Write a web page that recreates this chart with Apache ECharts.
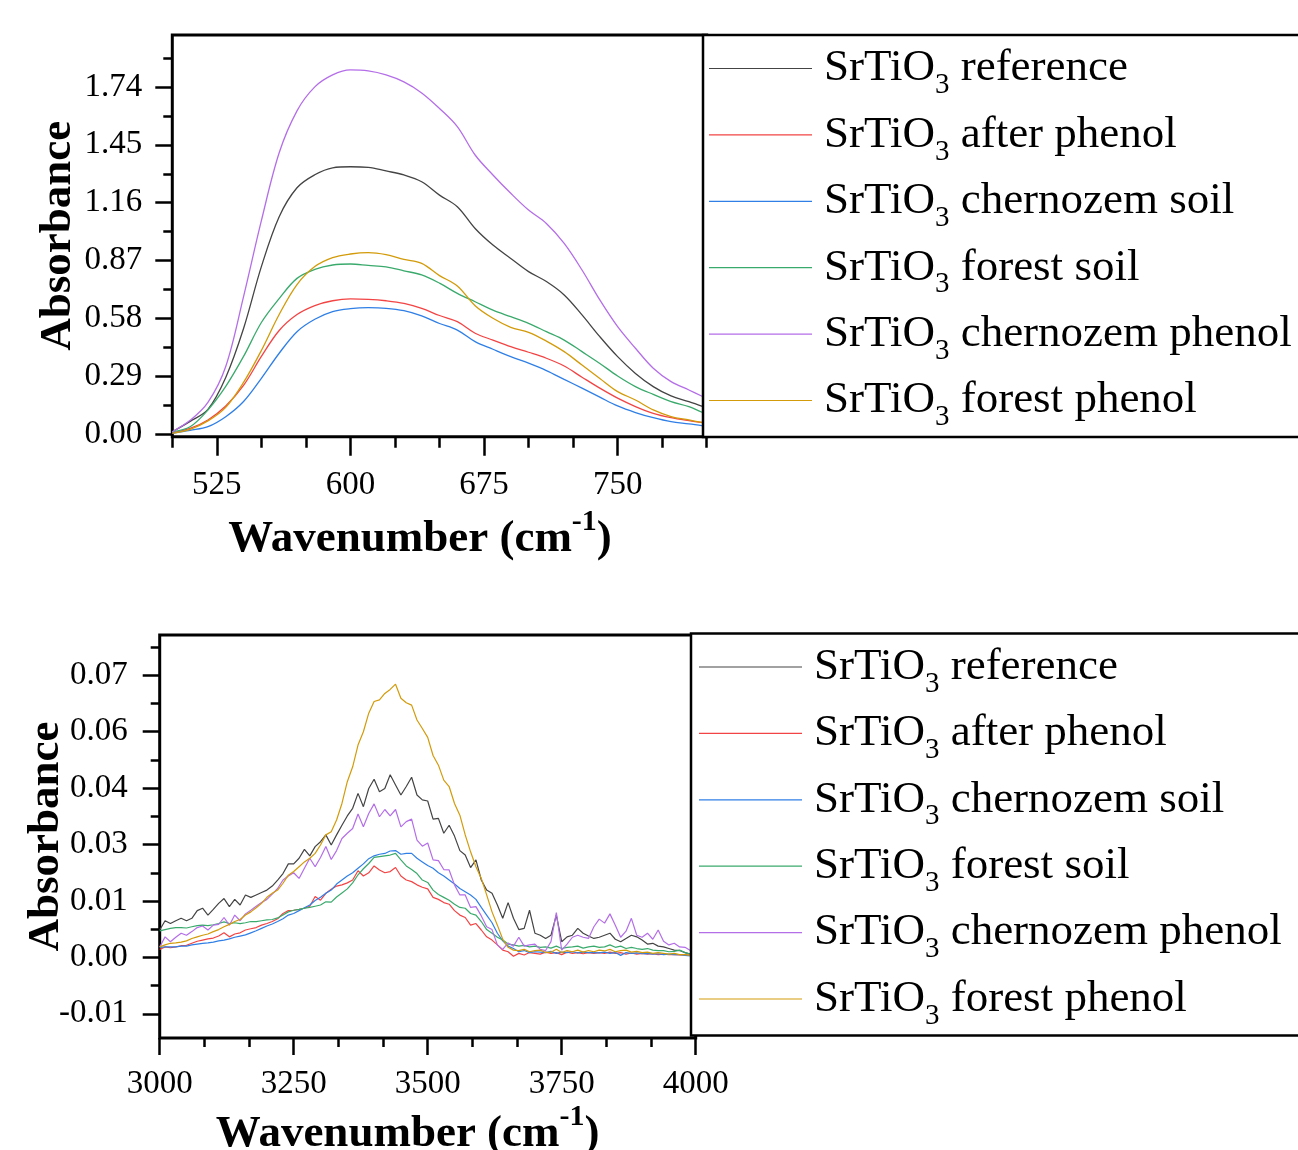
<!DOCTYPE html>
<html>
<head>
<meta charset="utf-8">
<script src="https://cdn.jsdelivr.net/npm/echarts@6/dist/echarts.min.js"></script>
<style>
html, body { margin: 0; padding: 0; background: #fff; }
#chart { width: 1298px; height: 1150px; }
</style>
</head>
<body>
<div id="chart"></div>
<script>
// ---- data: low wavenumber region (cm-1) ----
const topWavenumber = [500, 510, 520, 530, 540, 550, 560, 570, 580, 590, 600, 610, 620, 630, 640, 650,
  660, 670, 680, 690, 700, 710, 720, 730, 740, 750, 760, 770, 780, 790, 798];
const topReference = [0.013, 0.065, 0.125, 0.285, 0.53, 0.84, 1.09, 1.235, 1.30, 1.335, 1.340, 1.337, 1.319, 1.299, 1.265, 1.198,
  1.140, 1.031, 0.948, 0.881, 0.815, 0.765, 0.698, 0.598, 0.489, 0.389, 0.305, 0.239, 0.192, 0.164, 0.139];
const topAfterPhenol = [0.008, 0.030, 0.072, 0.142, 0.245, 0.39, 0.52, 0.60, 0.645, 0.669, 0.678, 0.676, 0.669, 0.656, 0.631, 0.595,
  0.564, 0.506, 0.472, 0.439, 0.411, 0.381, 0.342, 0.286, 0.231, 0.181, 0.139, 0.105, 0.083, 0.068, 0.058];
const topChernozemSoil = [0.005, 0.020, 0.038, 0.088, 0.164, 0.280, 0.406, 0.514, 0.576, 0.614, 0.629, 0.634, 0.631, 0.619, 0.593, 0.555,
  0.522, 0.464, 0.426, 0.389, 0.356, 0.319, 0.275, 0.231, 0.186, 0.142, 0.109, 0.083, 0.063, 0.052, 0.042];
const topForestSoil = [0.013, 0.038, 0.122, 0.240, 0.39, 0.56, 0.68, 0.781, 0.826, 0.848, 0.853, 0.846, 0.839, 0.819, 0.798, 0.757,
  0.706, 0.664, 0.622, 0.589, 0.556, 0.514, 0.472, 0.414, 0.355, 0.292, 0.239, 0.200, 0.164, 0.139, 0.108];
const topChernozemPhenol = [0.013, 0.07, 0.16, 0.34, 0.69, 1.07, 1.41, 1.62, 1.74, 1.80, 1.825, 1.82, 1.80, 1.765, 1.71, 1.632,
  1.541, 1.399, 1.299, 1.207, 1.123, 1.056, 0.956, 0.823, 0.673, 0.539, 0.431, 0.331, 0.264, 0.222, 0.188];
const topForestPhenol = [0.005, 0.025, 0.067, 0.135, 0.26, 0.42, 0.60, 0.75, 0.84, 0.885, 0.903, 0.910, 0.900, 0.876, 0.856, 0.795,
  0.743, 0.644, 0.581, 0.536, 0.511, 0.467, 0.414, 0.347, 0.280, 0.214, 0.172, 0.122, 0.089, 0.072, 0.058];

// ---- data: O-H region (cm-1) ----
const botWavenumber = [
  3000, 3010, 3020, 3030, 3040, 3050, 3060, 3070, 3080, 3090,
  3100, 3110, 3120, 3130, 3140, 3150, 3160, 3170, 3180, 3190,
  3200, 3210, 3220, 3230, 3240, 3250, 3260, 3270, 3280, 3290,
  3300, 3310, 3320, 3330, 3340, 3350, 3360, 3370, 3380, 3390,
  3400, 3410, 3420, 3430, 3440, 3450, 3460, 3470, 3480, 3490,
  3500, 3510, 3520, 3530, 3540, 3550, 3560, 3570, 3580, 3590,
  3600, 3610, 3620, 3630, 3640, 3650, 3660, 3670, 3680, 3690,
  3700, 3710, 3720, 3730, 3740, 3750, 3760, 3770, 3780, 3790,
  3800, 3810, 3820, 3830, 3840, 3850, 3860, 3870, 3880, 3890,
  3900, 3910, 3920, 3930, 3940, 3950, 3960, 3970, 3980, 3990, 4000];
const botReference = [
  0.0068, 0.0091, 0.0084, 0.0091, 0.0097, 0.0091, 0.0097, 0.0116, 0.0122, 0.0105,
  0.0119, 0.0134, 0.0146, 0.0126, 0.0144, 0.0130, 0.0155, 0.0149, 0.0155, 0.0161,
  0.0167, 0.0177, 0.0192, 0.0208, 0.0232, 0.0232, 0.0246, 0.0268, 0.0252, 0.0275,
  0.0287, 0.0304, 0.0279, 0.0304, 0.0328, 0.0351, 0.0370, 0.0407, 0.0374, 0.0419,
  0.0442, 0.0411, 0.0419, 0.0453, 0.0428, 0.0403, 0.0424, 0.0447, 0.0403, 0.0391,
  0.0388, 0.0343, 0.0345, 0.0308, 0.0328, 0.0301, 0.0265, 0.0254, 0.0223, 0.0242,
  0.0192, 0.0167, 0.0159, 0.0130, 0.0097, 0.0136, 0.0097, 0.0069, 0.0072, 0.0117,
  0.0060, 0.0055, 0.0047, 0.0055, 0.0105, 0.0039, 0.0051, 0.0055, 0.0072, 0.0060,
  0.0053, 0.0047, 0.0050, 0.0055, 0.0060, 0.0045, 0.0039, 0.0047, 0.0055, 0.0051,
  0.0043, 0.0033, 0.0035, 0.0028, 0.0026, 0.0022, 0.0018, 0.0017, 0.0012, 0.0008, 0.0006];
const botAfterPhenol = [
  0.0020, 0.0026, 0.0024, 0.0026, 0.0029, 0.0030, 0.0035, 0.0040, 0.0043, 0.0046,
  0.0048, 0.0053, 0.0061, 0.0051, 0.0058, 0.0061, 0.0068, 0.0071, 0.0074, 0.0080,
  0.0084, 0.0089, 0.0096, 0.0109, 0.0116, 0.0117, 0.0119, 0.0122, 0.0127, 0.0151,
  0.0142, 0.0159, 0.0169, 0.0177, 0.0180, 0.0185, 0.0192, 0.0215, 0.0202, 0.0210,
  0.0227, 0.0217, 0.0210, 0.0213, 0.0223, 0.0202, 0.0192, 0.0188, 0.0180, 0.0174,
  0.0170, 0.0149, 0.0144, 0.0136, 0.0132, 0.0116, 0.0105, 0.0099, 0.0080, 0.0084,
  0.0068, 0.0051, 0.0043, 0.0031, 0.0018, 0.0014, 0.0003, 0.0010, 0.0006, 0.0012,
  0.0010, 0.0008, 0.0013, 0.0010, 0.0012, 0.0007, 0.0013, 0.0010, 0.0012, 0.0009,
  0.0012, 0.0010, 0.0012, 0.0010, 0.0013, 0.0010, 0.0012, 0.0008, 0.0011, 0.0008,
  0.0010, 0.0008, 0.0009, 0.0007, 0.0008, 0.0007, 0.0007, 0.0006, 0.0007, 0.0005, 0.0005];
const botChernozemSoil = [
  0.0025, 0.0026, 0.0026, 0.0026, 0.0028, 0.0028, 0.0031, 0.0033, 0.0035, 0.0036,
  0.0038, 0.0041, 0.0043, 0.0046, 0.0050, 0.0053, 0.0056, 0.0061, 0.0066, 0.0072,
  0.0078, 0.0083, 0.0089, 0.0096, 0.0105, 0.0109, 0.0116, 0.0123, 0.0130, 0.0141,
  0.0149, 0.0159, 0.0167, 0.0182, 0.0192, 0.0202, 0.0210, 0.0221, 0.0232, 0.0245,
  0.0252, 0.0256, 0.0258, 0.0264, 0.0265, 0.0256, 0.0258, 0.0258, 0.0246, 0.0237,
  0.0228, 0.0221, 0.0210, 0.0202, 0.0192, 0.0182, 0.0171, 0.0163, 0.0155, 0.0144,
  0.0124, 0.0105, 0.0086, 0.0060, 0.0041, 0.0028, 0.0022, 0.0014, 0.0017, 0.0012,
  0.0014, 0.0013, 0.0012, 0.0015, 0.0010, 0.0013, 0.0012, 0.0014, 0.0011, 0.0013,
  0.0012, 0.0012, 0.0011, 0.0013, 0.0010, 0.0012, 0.0005, 0.0012, 0.0010, 0.0011,
  0.0009, 0.0010, 0.0008, 0.0009, 0.0007, 0.0008, 0.0007, 0.0007, 0.0005, 0.0004, 0.0003];
const botForestSoil = [
  0.0066, 0.0069, 0.0072, 0.0074, 0.0074, 0.0073, 0.0076, 0.0079, 0.0080, 0.0079,
  0.0081, 0.0084, 0.0088, 0.0084, 0.0086, 0.0084, 0.0086, 0.0089, 0.0089, 0.0091,
  0.0093, 0.0094, 0.0098, 0.0105, 0.0113, 0.0117, 0.0119, 0.0122, 0.0124, 0.0127,
  0.0130, 0.0138, 0.0137, 0.0150, 0.0160, 0.0170, 0.0185, 0.0205, 0.0220, 0.0233,
  0.0248, 0.0250, 0.0252, 0.0254, 0.0258, 0.0242, 0.0227, 0.0218, 0.0208, 0.0192,
  0.0186, 0.0167, 0.0156, 0.0149, 0.0142, 0.0132, 0.0124, 0.0122, 0.0109, 0.0105,
  0.0089, 0.0069, 0.0060, 0.0050, 0.0043, 0.0033, 0.0031, 0.0028, 0.0030, 0.0026,
  0.0028, 0.0025, 0.0026, 0.0023, 0.0028, 0.0022, 0.0025, 0.0026, 0.0028, 0.0023,
  0.0026, 0.0028, 0.0025, 0.0026, 0.0031, 0.0025, 0.0028, 0.0022, 0.0025, 0.0022,
  0.0020, 0.0022, 0.0018, 0.0017, 0.0017, 0.0014, 0.0015, 0.0018, 0.0012, 0.0008, 0.0006];
const botChernozemPhenol = [
  0.0026, 0.0051, 0.0039, 0.0050, 0.0060, 0.0055, 0.0064, 0.0074, 0.0078, 0.0068,
  0.0080, 0.0082, 0.0099, 0.0080, 0.0105, 0.0091, 0.0108, 0.0117, 0.0127, 0.0136,
  0.0144, 0.0157, 0.0171, 0.0192, 0.0202, 0.0210, 0.0196, 0.0221, 0.0246, 0.0225,
  0.0248, 0.0275, 0.0243, 0.0265, 0.0295, 0.0308, 0.0320, 0.0356, 0.0324, 0.0357,
  0.0381, 0.0349, 0.0367, 0.0351, 0.0367, 0.0324, 0.0337, 0.0343, 0.0291, 0.0276,
  0.0284, 0.0242, 0.0240, 0.0218, 0.0217, 0.0180, 0.0155, 0.0155, 0.0124, 0.0126,
  0.0103, 0.0076, 0.0069, 0.0031, 0.0020, 0.0036, 0.0028, 0.0050, 0.0028, 0.0031,
  0.0033, 0.0020, 0.0017, 0.0039, 0.0111, 0.0018, 0.0033, 0.0050, 0.0055, 0.0050,
  0.0047, 0.0076, 0.0095, 0.0085, 0.0108, 0.0080, 0.0050, 0.0065, 0.0097, 0.0055,
  0.0050, 0.0060, 0.0045, 0.0068, 0.0040, 0.0031, 0.0035, 0.0026, 0.0025, 0.0017, 0.0010];
const botForestPhenol = [
  0.0026, 0.0031, 0.0035, 0.0036, 0.0038, 0.0041, 0.0047, 0.0051, 0.0055, 0.0058,
  0.0064, 0.0069, 0.0076, 0.0082, 0.0089, 0.0094, 0.0105, 0.0113, 0.0123, 0.0134,
  0.0149, 0.0159, 0.0167, 0.0184, 0.0204, 0.0213, 0.0225, 0.0237, 0.0246, 0.0258,
  0.0279, 0.0304, 0.0312, 0.0341, 0.0382, 0.0436, 0.0473, 0.0527, 0.0560, 0.0606,
  0.0635, 0.0639, 0.0655, 0.0665, 0.0678, 0.0643, 0.0632, 0.0626, 0.0589, 0.0568,
  0.0546, 0.0501, 0.0477, 0.0440, 0.0424, 0.0382, 0.0353, 0.0304, 0.0262, 0.0225,
  0.0196, 0.0155, 0.0113, 0.0080, 0.0045, 0.0025, 0.0018, 0.0017, 0.0020, 0.0014,
  0.0017, 0.0018, 0.0012, 0.0013, 0.0020, 0.0012, 0.0017, 0.0014, 0.0018, 0.0013,
  0.0017, 0.0014, 0.0018, 0.0016, 0.0020, 0.0014, 0.0017, 0.0018, 0.0013, 0.0015,
  0.0012, 0.0013, 0.0010, 0.0012, 0.0010, 0.0008, 0.0010, 0.0007, 0.0007, 0.0005, 0.0003];

// ---- tick positions ----
const topXLabels = [525, 600, 675, 750];
const topXMinor = [500, 550, 575, 625, 650, 700, 725, 775, 800];
const topYLabels = [0, 0.29, 0.58, 0.87, 1.16, 1.45, 1.74];
const topYMinor = [0.145, 0.435, 0.725, 1.015, 1.305, 1.595, 1.885];
const botXLabels = [3000, 3250, 3500, 3750, 4000];
const botXMinor = [3083.33, 3166.67, 3333.33, 3416.67, 3583.33, 3666.67, 3833.33, 3916.67];
const botYLabels = [-0.014, 0, 0.014, 0.028, 0.042, 0.056, 0.070];
const botYMinor = [-0.007, 0.007, 0.021, 0.035, 0.049, 0.063, 0.077];

const sampleNames = ['reference', 'after phenol', 'chernozem soil', 'forest soil', 'chernozem phenol', 'forest phenol'];
const sampleColors = ['#444444', '#f24444', '#2f7fe6', '#3aaa6c', '#b46ee8', '#d39b0a'];

const FONT = '"Liberation Serif", "Times New Roman", serif';

function pairs(xs, ys) {
  return xs.map(function (x, i) { return [x, ys[i]]; });
}

function majorAxis(grid, min, max, labels, fmt, tickLen, margin, isX) {
  return {
    type: 'value', gridIndex: grid, min: min, max: max,
    position: isX ? 'bottom' : 'left',
    nameMoveOverlap: false,
    axisLine: { show: false, onZero: false },
    splitLine: { show: false },
    axisTick: { show: true, customValues: labels, length: tickLen, lineStyle: { color: '#000', width: 2.5 } },
    axisLabel: {
      customValues: labels, margin: margin, formatter: fmt,
      fontFamily: FONT, fontSize: 33, color: '#000'
    }
  };
}

function minorAxis(grid, min, max, ticks, tickLen, isX) {
  return {
    type: 'value', gridIndex: grid, min: min, max: max,
    position: isX ? 'bottom' : 'left',
    axisLine: { show: false, onZero: false },
    splitLine: { show: false },
    axisLabel: { show: false },
    axisTick: { show: true, customValues: ticks, length: tickLen, lineStyle: { color: '#000', width: 2.5 } }
  };
}

const titleRich = {
  b: { fontFamily: FONT, fontSize: 45, fontWeight: 'bold', lineHeight: 45, color: '#000' },
  sup: { fontFamily: FONT, fontSize: 30, fontWeight: 'bold', lineHeight: 30, color: '#000', padding: [0, 0, 34, 0] }
};
const legendRich = {
  m: { fontFamily: FONT, fontSize: 45, lineHeight: 45, color: '#000' },
  sub: { fontFamily: FONT, fontSize: 29, lineHeight: 28, color: '#000', padding: [34, 0, 0, 0] }
};
const xTitle = '{b|Wavenumber (cm}{sup|-1}{b|)}';

// x axes
const xTop = majorAxis(0, 500, 800, topXLabels, function (v) { return String(v); }, 19, 32, true);
xTop.name = xTitle;
xTop.nameLocation = 'middle';
xTop.nameGap = 80;
xTop.nameTextStyle = { rich: titleRich, padding: [0, 39, 0, 0] };
const xBot = majorAxis(1, 3000, 4000, botXLabels, function (v) { return String(v); }, 17, 30, true);
xBot.name = xTitle;
xBot.nameLocation = 'middle';
xBot.nameGap = 74;
xBot.nameTextStyle = { rich: titleRich, padding: [0, 40, 0, 0] };

// y axes
const yTitleStyle = { fontFamily: FONT, fontSize: 45, fontWeight: 'bold', color: '#000' };
const yTop = majorAxis(0, -0.012, 2.0, topYLabels, function (v) { return v.toFixed(2); }, 17, 30, false);
yTop.name = 'Absorbance';
yTop.nameLocation = 'middle';
yTop.nameGap = 91;
yTop.nameTextStyle = yTitleStyle;
const yBot = majorAxis(1, -0.02, 0.08, botYLabels, function (v) { return v.toFixed(2); }, 17, 32, false);
yBot.name = 'Absorbance';
yBot.nameLocation = 'middle';
yBot.nameGap = 91;
yBot.nameTextStyle = yTitleStyle;

const topSets = [topReference, topAfterPhenol, topChernozemSoil, topForestSoil, topChernozemPhenol, topForestPhenol];
const botSets = [botReference, botAfterPhenol, botChernozemSoil, botForestSoil, botChernozemPhenol, botForestPhenol];

const series = [];
sampleNames.forEach(function (name, i) {
  series.push({
    name: name, type: 'line', xAxisIndex: 0, yAxisIndex: 0,
    data: pairs(topWavenumber, topSets[i]),
    symbol: 'none', smooth: 0.35, color: sampleColors[i],
    lineStyle: { width: 1.3, color: sampleColors[i] }
  });
});
sampleNames.forEach(function (name, i) {
  series.push({
    name: name, type: 'line', xAxisIndex: 2, yAxisIndex: 2,
    data: pairs(botWavenumber, botSets[i]),
    symbol: 'none', color: sampleColors[i],
    lineStyle: { width: 1.2, color: sampleColors[i] }
  });
});

function legendLabel(name) {
  return '{m|SrTiO}{sub|3}{m| ' + name + '}';
}

function legendBox(left, top, padding) {
  return {
    orient: 'vertical', left: left, top: top, padding: padding,
    icon: 'rect', itemGap: 3.4, itemWidth: 103, itemHeight: 1.2,
    backgroundColor: '#fff', borderColor: '#000', borderWidth: 2.5,
    selectedMode: false, data: sampleNames, formatter: legendLabel,
    textStyle: { padding: [0, 0, 0, 7], rich: legendRich }
  };
}

const option = {
  animation: false,
  backgroundColor: '#fff',
  grid: [
    { left: 172.3, top: 35, width: 534.4, height: 401.7, show: true, borderColor: '#000', borderWidth: 3,
      backgroundColor: 'transparent', outerBoundsMode: 'none' },
    { left: 159.7, top: 635, width: 536, height: 403, show: true, borderColor: '#000', borderWidth: 3,
      backgroundColor: 'transparent', outerBoundsMode: 'none' }
  ],
  xAxis: [
    xTop,
    minorAxis(0, 500, 800, topXMinor, 11, true),
    xBot,
    minorAxis(1, 3000, 4000, botXMinor, 9, true)
  ],
  yAxis: [
    yTop,
    minorAxis(0, -0.012, 2.0, topYMinor, 9, false),
    yBot,
    minorAxis(1, -0.02, 0.08, botYMinor, 9, false)
  ],
  legend: [
    legendBox(703, 35, [2, 120, 5, 6]),
    legendBox(691, 633.5, [2, 120, 5, 8])
  ],
  series: series
};

const chart = echarts.init(document.getElementById('chart'), null, { renderer: 'canvas' });
chart.setOption(option);
</script>
</body>
</html>
